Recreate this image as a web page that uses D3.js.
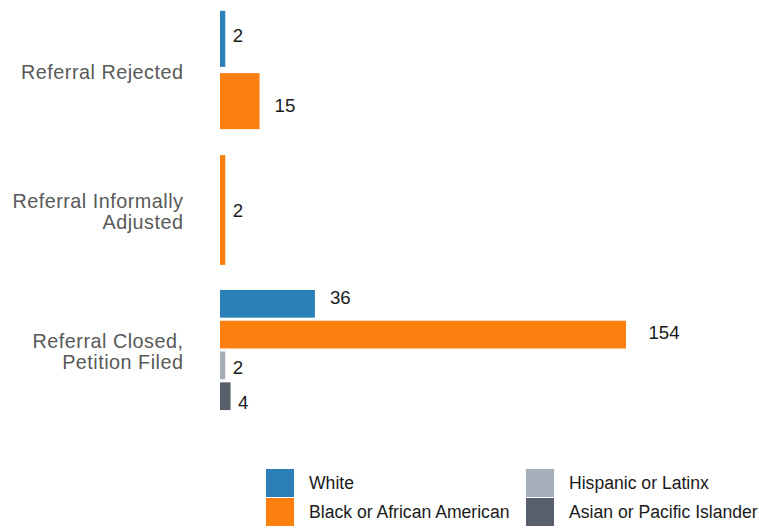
<!DOCTYPE html>
<html>
<head>
<meta charset="utf-8">
<script src="https://cdn.jsdelivr.net/npm/d3@7"></script>
<style>
  body { margin: 0; background: #fff; }
  text { font-family: "Liberation Sans", Arial, sans-serif; }
</style>
</head>
<body>
<div id="chart"></div>
<script>
// Data
const categories = ["Referral Rejected", "Referral Informally Adjusted", "Referral Closed, Petition Filed"];
const categoryLines = [["Referral Rejected"], ["Referral Informally", "Adjusted"], ["Referral Closed,", "Petition Filed"]];
const series = ["White", "Black or African American", "Hispanic or Latinx", "Asian or Pacific Islander"];
const whiteValues = [2, 0, 36];
const blackValues = [15, 2, 154];
const hispanicValues = [0, 0, 2];
const asianValues = [0, 0, 4];
const colors = ["#2c80b9", "#fd7f0f", "#a5aeb9", "#575f6d"];

const W = 759, H = 529;
const valuesBySeries = [whiteValues, blackValues, hispanicValues, asianValues];

const svg = d3.select("#chart").append("svg")
    .attr("width", W)
    .attr("height", H);

const x = d3.scaleLinear()
    .domain([0, d3.max(valuesBySeries.flat())])
    .range([220, 626]);

const y0 = d3.scaleBand()
    .domain(categories)
    .range([9, 411])
    .paddingInner(0.1286)
    .paddingOuter(0);

const color = d3.scaleOrdinal().domain(series).range(colors);

categories.forEach((cat, ci) => {
    // only series with a value get a slot
    const present = series.filter((s, si) => valuesBySeries[si][ci] > 0);
    const yi = d3.scaleBand()
        .domain(present)
        .range([y0(cat), y0(cat) + y0.bandwidth()])
        .paddingInner(0.1)
        .paddingOuter(0.03);
    const mid = y0(cat) + y0.bandwidth() / 2;
    // value labels are spread over the full step
    const yl = d3.scaleBand()
        .domain(present)
        .range([mid - y0.step() / 2, mid + y0.step() / 2]);

    const rows = present.map(s => ({ key: s, value: valuesBySeries[series.indexOf(s)][ci] }));
    const g = svg.append("g");

    g.selectAll("rect")
        .data(rows)
        .enter()
        .append("rect")
        .attr("x", x(0))
        .attr("y", d => yi(d.key))
        .attr("width", d => x(d.value) - x(0))
        .attr("height", yi.bandwidth())
        .attr("fill", d => color(d.key));

    g.selectAll("text.val")
        .data(rows)
        .enter()
        .append("text")
        .attr("class", "val")
        .attr("y", d => yl(d.key) + yl.bandwidth() / 2)
        .attr("dy", "0.35em")
        .style("font-size", "18.7px")
        .style("fill", "#1a1a1a")
        .text(d => d.value)
        .attr("x", function(d) { return x(d.value) + 0.72 * this.getComputedTextLength(); });

    // category label
    const lines = categoryLines[ci];
    const lab = svg.append("text")
        .attr("text-anchor", "end")
        .style("font-size", "19.8px")
        .style("letter-spacing", "0.5px")
        .style("fill", "#595959");
    lines.forEach((ln, li) => {
        lab.append("tspan")
            .attr("x", 183.5)
            .attr("y", mid + 2 + (li - (lines.length - 1) / 2) * 21)
            .attr("dy", "0.35em")
            .text(ln);
    });
});

// Legend
const legend = svg.append("g").attr("transform", "translate(266,469)");
const items = legend.selectAll(".legend-item")
    .data(series)
    .enter()
    .append("g")
    .attr("class", "legend-item")
    .attr("transform", (d, i) => `translate(${Math.floor(i / 2) * 260}, ${(i % 2) * 29})`);

items.append("rect")
    .attr("width", 28)
    .attr("height", 28)
    .attr("fill", d => color(d));

items.append("text")
    .attr("x", 43)
    .attr("y", 14)
    .attr("dy", "0.35em")
    .style("font-size", "17.6px")
    .style("fill", "#1a1a1a")
    .text(d => d);
</script>
</body>
</html>
